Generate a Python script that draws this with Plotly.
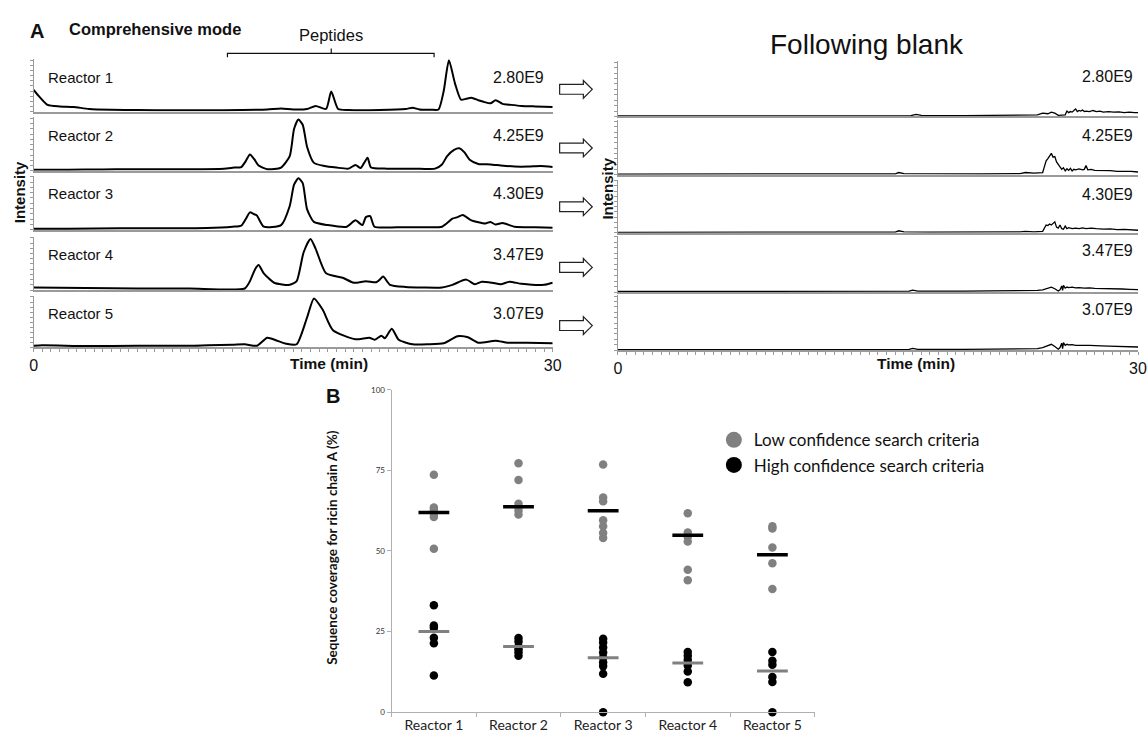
import numpy as np
import plotly.graph_objects as go

W, H = 1148, 735
FONT = "Arial, Liberation Sans, sans-serif"
CAL = "Lato, Carlito, sans-serif"

# ---------------- Panel A data (time in min, intensity in % of row scale) ----------------
reactors = ["Reactor 1", "Reactor 2", "Reactor 3", "Reactor 4", "Reactor 5"]
scale_labels = ["2.80E9", "4.25E9", "4.30E9", "3.47E9", "3.07E9"]

r1_t = [0, 0.3, 0.8, 1.5, 2.3, 3.2, 4.5, 6, 8, 10, 12, 13.5, 14.3, 15, 15.8, 16.3, 16.9, 17.2, 17.6, 18.2, 20, 21.5, 21.9, 22.3, 23.0, 23.4, 23.7, 24.0, 24.35, 24.7, 25.0, 25.3, 25.7, 26.0, 26.4, 26.7, 27.1, 27.6, 28.2, 29.0, 30]
r1_y = [42, 30, 13, 10, 9, 5, 3.5, 3, 2.5, 2.5, 3, 4, 6, 4, 5, 11, 5, 39, 5, 3, 3, 5, 7.5, 4, 3.5, 4, 40, 100, 55, 23, 25, 27, 22, 19, 16, 22, 15, 13, 11, 10, 9]

r2_t = [0, 2, 4, 5.5, 7, 9, 11, 11.6, 12.0, 12.25, 12.5, 12.75, 13.0, 13.5, 14.3, 14.8, 15.05, 15.3, 15.55, 15.8, 16.2, 16.8, 17.5, 18.2, 18.6, 18.9, 19.1, 19.3, 19.5, 20.4, 22, 23.2, 23.6, 23.9, 24.3, 24.6, 24.9, 25.2, 25.7, 26.4, 27.0, 27.8, 28.6, 29.3, 30]
r2_y = [2, 2, 2.5, 3, 3, 3, 4, 6, 7, 18, 31, 22, 10, 3, 6, 28, 80, 98, 88, 46, 15, 9, 6, 4, 11, 5, 15, 25, 6, 4, 4, 4, 12, 28, 40, 43, 35, 21, 13, 12, 10, 8, 8, 9, 7]

r3_t = [0, 2, 5, 8, 10, 11.5, 12.0, 12.25, 12.5, 12.7, 12.9, 13.3, 14.3, 14.8, 15.05, 15.3, 15.55, 15.8, 16.2, 17, 18.1, 18.6, 19.0, 19.2, 19.45, 19.7, 21, 22.5, 23.6, 24.2, 24.5, 24.8, 25.3, 26.1, 26.4, 26.7, 27.1, 27.8, 29, 30]
r3_y = [2, 2, 3, 3, 3.5, 6, 8, 20, 33, 30, 27, 6, 9, 45, 85, 97, 88, 39, 15, 9, 6, 18, 9, 24, 26, 6, 5, 5, 6, 21, 24, 28, 18, 12, 15, 10, 13, 6, 5, 4]

r4_t = [0, 3, 6, 9, 12.2, 12.5, 12.8, 13.0, 13.3, 13.9, 14.8, 15.2, 15.6, 16.0, 16.3, 16.9, 17.9, 18.5, 19.2, 19.8, 20.0, 20.2, 20.6, 21.5, 22.5, 23.6, 24.2, 25.0, 25.5, 25.9, 26.5, 27.0, 27.5, 28.2, 29.5, 30]
r4_y = [5, 4, 3, 3, 3, 17, 40, 48, 32, 14, 10, 17, 72, 98, 79, 32, 23, 14, 17, 15, 20, 26, 10, 6, 5, 5, 10, 20, 11, 16, 14, 11, 16, 12, 10, 14]

r5_t = [0, 0.5, 3, 6, 9, 10.1, 11.5, 12.2, 12.9, 13.5, 14.0, 14.6, 15.2, 15.8, 16.2, 16.7, 17.3, 18.6, 19.4, 19.7, 20.1, 20.3, 20.7, 21.1, 21.9, 22.8, 23.7, 24.5, 25.1, 25.7, 26.7, 27.4, 28.5, 30]
r5_y = [3, 4, 2.5, 3, 3, 4, 5, 6, 3, 19, 14, 7, 6, 59, 97, 75, 34, 16, 19, 15, 23, 18, 37, 15, 6, 6, 8, 22, 20, 9, 13, 9, 9, 8]

b1_t = [0, 4, 8, 12, 16.9, 17.2, 17.5, 20, 23.5, 24.2, 24.5, 24.8, 25.0, 25.2, 25.4, 25.6, 25.8, 25.9, 26.0, 26.1, 26.2, 26.3, 26.4, 26.5, 26.6, 26.7, 26.8, 26.9, 27.0, 27.2, 27.4, 27.6, 27.8, 28.0, 28.3, 28.6, 28.9, 29.2, 29.5, 29.8, 30]
b1_y = [1, 1, 1.5, 1.5, 1.5, 4, 2, 1.5, 2, 3, 6, 5, 8, 6, 2, 2.5, 3, 10, 7, 9, 8, 11, 14, 9, 11, 10, 12, 9, 10, 9, 11, 9, 10, 8, 9, 8, 8.5, 7, 8, 7, 7]

b2_t = [0, 4, 8, 12, 16.0, 16.2, 16.5, 18, 21, 23.2, 23.5, 24.0, 24.5, 24.6, 24.7, 24.8, 24.9, 25.0, 25.1, 25.2, 25.3, 25.4, 25.5, 25.6, 25.7, 25.8, 25.9, 26.0, 26.1, 26.2, 26.3, 26.4, 26.6, 26.8, 26.9, 27.0, 27.1, 27.3, 27.5, 27.8, 28.1, 28.4, 28.8, 29.2, 29.6, 30]
b2_y = [1, 1.5, 1.5, 1.5, 1.5, 4, 2, 1.5, 1.5, 2, 4, 3, 4, 15, 26, 30, 36, 40, 33, 34, 24, 20, 14, 10, 13, 7, 11, 8, 12, 7, 10, 9, 11, 9, 10, 17, 9, 10, 8, 8, 7, 7.5, 6, 6.5, 6, 5]

b3_t = [0, 4, 8, 12, 16.0, 16.2, 16.5, 18, 21, 23.2, 23.5, 24.0, 24.5, 24.6, 24.7, 24.8, 24.9, 25.0, 25.1, 25.2, 25.3, 25.4, 25.5, 25.6, 25.7, 25.8, 25.9, 26.0, 26.2, 26.4, 26.6, 26.8, 27.0, 27.3, 27.6, 28.0, 28.4, 28.8, 29.2, 29.6, 30]
b3_y = [1, 1, 1.5, 1.5, 1.5, 4, 2, 1.5, 1.5, 2, 3, 2, 3, 10, 15, 14, 17, 15, 19, 21, 11, 9, 15, 8, 7, 13, 8, 10, 8, 9, 8, 9.5, 8, 9, 8, 7, 7.5, 6, 6.5, 5.5, 5]

b4_t = [0, 4, 8, 12, 16.8, 17.0, 17.3, 20, 23.5, 24.2, 24.5, 24.8, 25.0, 25.2, 25.4, 25.5, 25.6, 25.65, 25.7, 25.8, 25.9, 26.0, 26.2, 26.4, 26.6, 26.9, 27.2, 27.5, 27.9, 28.3, 28.7, 29.1, 29.5, 30]
b4_y = [1, 1, 1.5, 1.5, 1.5, 3.5, 1.5, 1.5, 2, 3, 4, 7, 9, 6, 2, 4, 11, 3, 12, 7, 9, 8, 9, 7.5, 8, 7, 7.5, 6.5, 6.5, 6, 5.5, 5.5, 5, 4.5]

b5_t = [0, 4, 8, 12, 16.8, 17.0, 17.3, 20, 23.5, 24.2, 24.5, 24.8, 25.0, 25.2, 25.4, 25.5, 25.6, 25.65, 25.7, 25.8, 25.9, 26.0, 26.2, 26.4, 26.6, 26.9, 27.2, 27.5, 27.9, 28.3, 28.7, 29.1, 29.5, 30]
b5_y = [1, 1, 1.5, 1.5, 1.5, 3.5, 1.5, 1.5, 2, 3, 5, 8, 11, 7, 2, 5, 13, 3, 14, 9, 11, 10, 10.5, 9, 9.5, 9, 9, 8, 8, 7.5, 7, 7, 6.5, 6]

# ---------------- Panel B data (sequence coverage %) ----------------
categories = ["Reactor 1", "Reactor 2", "Reactor 3", "Reactor 4", "Reactor 5"]
low_conf = [
    [73.6, 63.5, 62.8, 61.5, 60.5, 50.7],
    [77.2, 72.0, 64.6, 63.6, 62.5, 61.3],
    [76.8, 66.6, 65.4, 59.5, 57.7, 55.6, 54.0],
    [61.7, 55.7, 54.4, 52.9, 44.2, 40.9],
    [57.7, 57.0, 51.1, 46.2, 38.2],
]
high_conf = [
    [33.2, 26.9, 26.2, 23.1, 21.4, 11.4],
    [23.0, 21.9, 20.4, 19.5, 18.6, 17.5],
    [22.8, 21.6, 20.1, 18.5, 17.0, 15.5, 14.3, 11.9, 0],
    [18.7, 17.5, 16.2, 14.5, 12.6, 9.3],
    [18.7, 16.0, 14.7, 10.9, 9.4, 0],
]
low_mean = [61.9, 63.7, 62.5, 54.9, 48.8]
high_mean = [25.0, 20.4, 16.9, 15.3, 12.8]

# ---------------- layout helpers ----------------
def px(x):
    return x / W

def py(y):
    return 1 - y / H

left_rows = [(55, 108), (114, 168), (173, 228), (235, 289), (295, 347)]
right_rows = [(57, 113), (117, 172), (177, 231), (234, 291), (294, 350)]
left_x = (30, 555)
right_x = (621, 1147)

left_series = [(r1_t, r1_y), (r2_t, r2_y), (r3_t, r3_y), (r4_t, r4_y), (r5_t, r5_y)]
right_series = [(b1_t, b1_y), (b2_t, b2_y), (b3_t, b3_y), (b4_t, b4_y), (b5_t, b5_y)]

fig = go.Figure()
layout = {}
annotations = []
shapes = []

AXC = "#9a9a9a"
tick_vals = list(np.arange(0, 30.01, 0.5))
tick_text = ["0" if v == 0 else ("30" if v == 30 else "") for v in tick_vals]

def add_panel(idx, t, y, xdom, ydom, bottom, lw, shape):
    xa = "xaxis" if idx == 1 else f"xaxis{idx}"
    ya = "yaxis" if idx == 1 else f"yaxis{idx}"
    layout[xa] = dict(domain=[px(xdom[0]), px(xdom[1])], anchor=f"y{idx}", range=[0, 30],
                      showline=True, linecolor=AXC, linewidth=1.5, showgrid=False, zeroline=False,
                      ticks="outside" if bottom else "", tickvals=tick_vals if bottom else [],
                      ticktext=tick_text if bottom else [], ticklen=3, tickcolor=AXC,
                      tickfont=dict(family=FONT, size=16, color="#111"), fixedrange=True)
    layout[ya] = dict(domain=[py(ydom[1]), py(ydom[0])], anchor=f"x{idx}", range=[0, 102],
                      showline=True, linecolor=AXC, linewidth=1, showgrid=False, zeroline=False,
                      ticks="outside", dtick=10, ticklen=3, tickcolor=AXC, showticklabels=False,
                      fixedrange=True)
    fig.add_trace(go.Scatter(x=t, y=y, mode="lines", xaxis=f"x{idx}", yaxis=f"y{idx}",
                             line=dict(color="black", width=lw, shape=shape, smoothing=0.6),
                             showlegend=False, hoverinfo="skip"))

for i in range(5):
    add_panel(i + 1, *left_series[i], left_x, left_rows[i], i == 4, 2.0, "spline")
    add_panel(i + 6, *right_series[i], right_x, right_rows[i], i == 4, 1.3, "linear")
    top_l = left_rows[i][0]
    top_r = right_rows[i][0]
    annotations.append(dict(x=px(42), y=py(top_l + 18), xref="paper", yref="paper", text=reactors[i],
                            showarrow=False, xanchor="left", yanchor="middle",
                            font=dict(family=FONT, size=15, color="#111")))
    annotations.append(dict(x=px(548), y=py(top_l + 18), xref="paper", yref="paper", text=scale_labels[i],
                            showarrow=False, xanchor="right", yanchor="middle",
                            font=dict(family=FONT, size=16, color="#111")))
    annotations.append(dict(x=px(1144), y=py(top_r + 15), xref="paper", yref="paper", text=scale_labels[i],
                            showarrow=False, xanchor="right", yanchor="middle",
                            font=dict(family=FONT, size=16, color="#111")))
    # hollow block arrow
    c = (left_rows[i][0] + left_rows[i][1]) / 2 + 4
    pts = [(562, c - 5), (586, c - 5), (586, c - 9), (595, c), (586, c + 9), (586, c + 5), (562, c + 5)]
    path = "M " + " L ".join(f"{px(a):.5f},{py(b):.5f}" for a, b in pts) + " Z"
    shapes.append(dict(type="path", path=path, xref="paper", yref="paper",
                       line=dict(color="#222", width=1.2), fillcolor="white"))

# Panel A texts
annotations += [
    dict(x=px(33), y=py(26), text="<b>A</b>", font=dict(family=FONT, size=20, color="#111"), xanchor="center"),
    dict(x=px(64), y=py(24), text="<b>Comprehensive mode</b>", font=dict(family=FONT, size=16.5, color="#111"), xanchor="left"),
    dict(x=px(331), y=py(30), text="Peptides", font=dict(family=FONT, size=16.5, color="#111"), xanchor="center"),
    dict(x=px(873), y=py(40), text="Following blank", font=dict(family=FONT, size=28, color="#111"), xanchor="center"),
    dict(x=px(329), y=py(363), text="<b>Time (min)</b>", font=dict(family=FONT, size=15.5, color="#111"), xanchor="center"),
    dict(x=px(922), y=py(363), text="<b>Time (min)</b>", font=dict(family=FONT, size=15.5, color="#111"), xanchor="center"),
    dict(x=px(16), y=py(190), text="<b>Intensity</b>", textangle=-90, font=dict(family=FONT, size=15, color="#111"), xanchor="center"),
    dict(x=px(610), y=py(186), text="<b>Intensity</b>", textangle=-90, font=dict(family=FONT, size=15, color="#111"), xanchor="center"),
    dict(x=px(333), y=py(396), text="<b>B</b>", font=dict(family=FONT, size=20, color="#111"), xanchor="center"),
    dict(x=px(331), y=py(550), text="<b>Sequence coverage for ricin chain A (%)</b>", textangle=-90,
         font=dict(family=CAL, size=13.5, color="#111"), xanchor="center"),
]
for a in annotations:
    a.setdefault("xref", "paper")
    a.setdefault("yref", "paper")
    a.setdefault("showarrow", False)
    a.setdefault("yanchor", "middle")

# Peptides bracket
br = [(226, 53), (226, 49), (435, 49), (435, 53)]
shapes.append(dict(type="path", xref="paper", yref="paper",
                   path="M " + " L ".join(f"{px(a):.5f},{py(b):.5f}" for a, b in br),
                   line=dict(color="#111", width=1.2)))
shapes.append(dict(type="line", xref="paper", yref="paper", x0=px(331), x1=px(331), y0=py(49), y1=py(44),
                   line=dict(color="#111", width=1.2)))

# ---------------- Panel B ----------------
layout["xaxis11"] = dict(domain=[px(392), px(820)], anchor="y11", type="category", range=[-0.5, 4.5],
                         showline=True, linecolor="#b0b0b0", linewidth=1, ticks="outside", tickson="boundaries",
                         ticklen=4, tickcolor="#b0b0b0", showgrid=False, zeroline=False,
                         tickfont=dict(family=CAL, size=14, color="#222"), fixedrange=True)
layout["yaxis11"] = dict(domain=[py(717), py(390)], anchor="x11", range=[0, 100],
                         tickvals=[0, 25, 50, 75, 100], showline=True, linecolor="#b0b0b0", linewidth=1,
                         ticks="outside", ticklen=4, tickcolor="#b0b0b0", showgrid=False, zeroline=False,
                         tickfont=dict(family=CAL, size=8, color="#333"), fixedrange=True)

low_x = [categories[i] for i in range(5) for _ in low_conf[i]]
low_y = [v for grp in low_conf for v in grp]
high_x = [categories[i] for i in range(5) for _ in high_conf[i]]
high_y = [v for grp in high_conf for v in grp]

fig.add_trace(go.Scatter(x=low_x, y=low_y, mode="markers", xaxis="x11", yaxis="y11", cliponaxis=False,
                         marker=dict(color="#808080", size=8.5), showlegend=False, hoverinfo="skip"))
fig.add_trace(go.Scatter(x=high_x, y=high_y, mode="markers", xaxis="x11", yaxis="y11", cliponaxis=False,
                         marker=dict(color="black", size=8.5), showlegend=False, hoverinfo="skip"))
fig.add_trace(go.Scatter(x=categories, y=low_mean, mode="markers", xaxis="x11", yaxis="y11",
                         marker=dict(symbol="line-ew", size=22, line=dict(color="black", width=3.5)),
                         showlegend=False, hoverinfo="skip"))
fig.add_trace(go.Scatter(x=categories, y=high_mean, mode="markers", xaxis="x11", yaxis="y11",
                         marker=dict(symbol="line-ew", size=22, line=dict(color="#808080", width=3)),
                         showlegend=False, hoverinfo="skip"))
# legend entries
fig.add_trace(go.Scatter(x=[None], y=[None], mode="markers", xaxis="x11", yaxis="y11",
                         marker=dict(color="#808080", size=17), name="Low confidence search criteria"))
fig.add_trace(go.Scatter(x=[None], y=[None], mode="markers", xaxis="x11", yaxis="y11",
                         marker=dict(color="black", size=17), name="High confidence search criteria"))

fig.update_layout(
    width=W, height=H, autosize=False,
    margin=dict(l=0, r=0, t=0, b=0),
    paper_bgcolor="white", plot_bgcolor="white",
    annotations=annotations, shapes=shapes,
    showlegend=True,
    legend=dict(x=px(718), y=py(423), xanchor="left", yanchor="top", bgcolor="rgba(0,0,0,0)",
                font=dict(family=CAL, size=17, color="#111"), itemsizing="trace", tracegroupgap=0),
    **layout,
)

fig.write_html("out.html", config={"displayModeBar": False},
               post_script="document.body.style.margin='0';document.body.style.overflow='hidden';")
